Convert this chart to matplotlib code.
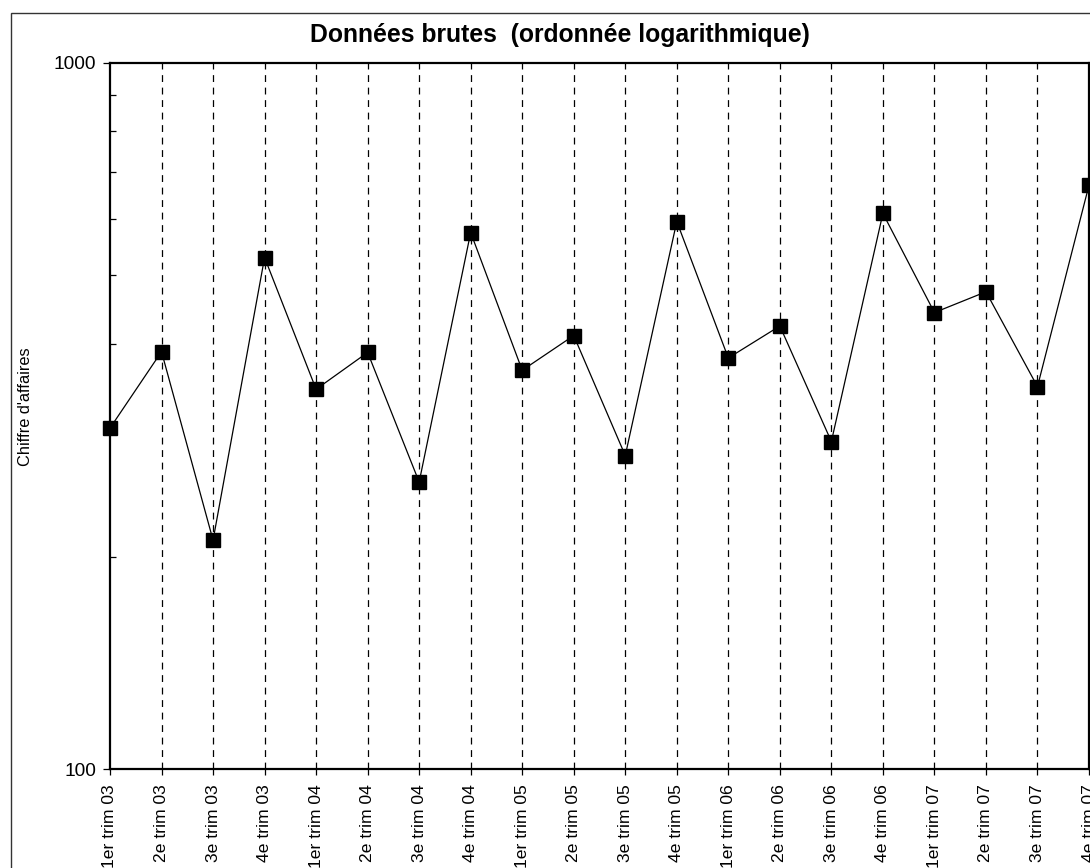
import matplotlib
matplotlib.use("Agg")
import matplotlib.pyplot as plt
from matplotlib.ticker import FixedLocator, NullFormatter, FixedFormatter
from matplotlib.patches import Rectangle
import numpy as np

plt.rcParams['font.family'] = ['Liberation Sans', 'DejaVu Sans']

categories = ["1er trim 03", "2e trim 03", "3e trim 03", "4e trim 03",
              "1er trim 04", "2e trim 04", "3e trim 04", "4e trim 04",
              "1er trim 05", "2e trim 05", "3e trim 05", "4e trim 05",
              "1er trim 06", "2e trim 06", "3e trim 06", "4e trim 06",
              "1er trim 07", "2e trim 07", "3e trim 07", "4e trim 07"]
chiffre = [304, 390, 211, 530, 345, 389, 255, 575, 367, 411,
           278, 596, 382, 424, 291, 612, 443, 474, 348, 671]
title = "Données brutes  (ordonnée logarithmique)"
ylabel = "Chiffre d'affaires"
y_major = [100, 1000]
y_minor = [200, 300, 400, 500, 600, 700, 800, 900]

W, H = 1090, 868
fig = plt.figure(figsize=(W / 100, H / 100), dpi=100)
ax = fig.add_axes([110 / W, 1 - 769.3 / H, (1089 - 110) / W, (769.3 - 62.7) / H])

x = np.arange(len(categories))
ax.set_yscale('log')
ax.set_ylim(100, 1000)
ax.set_xlim(0, len(categories) - 1)

# dashed vertical gridlines at each category
for xi in x[1:]:
    ax.axvline(xi, color='black', lw=0.9, linestyle=(0, (5.5, 4.5)), zorder=1)

ax.plot(x, chiffre, color='black', lw=0.9, marker='s', markersize=10,
        markerfacecolor='black', markeredgecolor='black', clip_on=False, zorder=5)

ax.set_xticks(x)
ax.set_xticklabels(categories, rotation=90, fontsize=12.6, va='top')
ax.tick_params(axis='x', direction='out', length=4.5, width=0.9, pad=6)

ax.yaxis.set_major_locator(FixedLocator(y_major))
ax.yaxis.set_major_formatter(FixedFormatter([str(v) for v in y_major]))
ax.yaxis.set_minor_locator(FixedLocator(y_minor))
ax.yaxis.set_minor_formatter(NullFormatter())
ax.tick_params(axis='y', which='major', direction='out', length=5, width=0.9,
               labelsize=13.8, pad=5)
ax.tick_params(axis='y', which='minor', direction='in', length=4, width=0.9)

for s in ax.spines.values():
    s.set_linewidth(1.6)
    s.set_color('black')

fig.text(560 / W, 1 - 35 / H, title, fontsize=17.8, fontweight='bold',
         ha='center', va='center')
fig.text(26 / W, 1 - 407 / H, ylabel, fontsize=11.8, rotation=90,
         ha='center', va='center')

fig.add_artist(Rectangle((11 / W, -0.05), 1.1, 1 - 13 / H + 0.05,
                         transform=fig.transFigure, fill=False,
                         edgecolor='#333333', lw=1.0))

fig.savefig("out.png", dpi=100)
